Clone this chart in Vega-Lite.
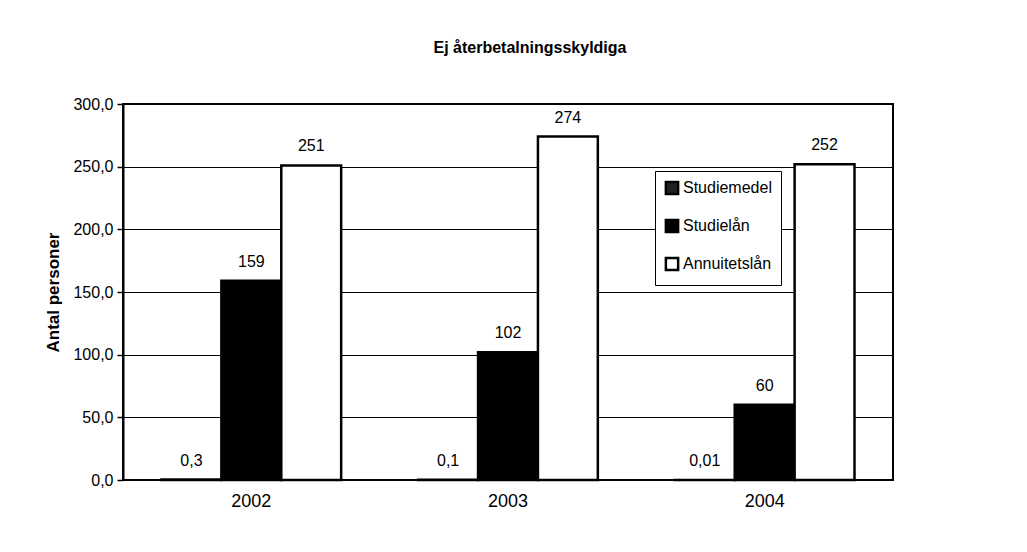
{
  "$schema": "https://vega.github.io/schema/vega-lite/v6.json",
  "autosize": "none",
  "width": 770,
  "height": 376,
  "padding": {"left": 123, "top": 104, "right": 134, "bottom": 72},
  "background": "white",
  "title": {
    "text": "Ej återbetalningsskyldiga",
    "font": "Liberation Sans",
    "fontSize": 16,
    "fontWeight": "bold",
    "color": "black",
    "anchor": "middle",
    "frame": "group",
    "offset": 40,
    "dx": 22
  },
  "data": {
    "values": [
      {"year": "2002", "typ": "Studiemedel", "value": 0.3, "label": "0,3"},
      {"year": "2002", "typ": "Studielån", "value": 159, "label": "159"},
      {"year": "2002", "typ": "Annuitetslån", "value": 251, "label": "251"},
      {"year": "2003", "typ": "Studiemedel", "value": 0.1, "label": "0,1"},
      {"year": "2003", "typ": "Studielån", "value": 102, "label": "102"},
      {"year": "2003", "typ": "Annuitetslån", "value": 274, "label": "274"},
      {"year": "2004", "typ": "Studiemedel", "value": 0.01, "label": "0,01"},
      {"year": "2004", "typ": "Studielån", "value": 60, "label": "60"},
      {"year": "2004", "typ": "Annuitetslån", "value": 252, "label": "252"}
    ]
  },
  "encoding": {
    "x": {
      "field": "year",
      "type": "nominal",
      "scale": {"paddingInner": 0.3, "paddingOuter": 0.15},
      "axis": {
        "title": null,
        "labelAngle": 0,
        "labelFont": "Liberation Sans",
        "labelFontSize": 18,
        "labelColor": "black",
        "labelPadding": 12,
        "ticks": false,
        "domain": false
      }
    },
    "xOffset": {
      "field": "typ",
      "type": "nominal",
      "sort": ["Studiemedel", "Studielån", "Annuitetslån"],
      "scale": {"paddingInner": 0, "paddingOuter": 0}
    },
    "y": {
      "field": "value",
      "type": "quantitative",
      "scale": {"domain": [0, 300], "nice": false},
      "axis": {
        "title": "Antal personer",
        "titleFont": "Liberation Sans",
        "titleFontSize": 17,
        "titleFontWeight": "bold",
        "titleColor": "black",
        "titlePadding": 10,
        "values": [0, 50, 100, 150, 200, 250, 300],
        "labelExpr": "replace(format(datum.value, '.1f'), '.', ',')",
        "labelFont": "Liberation Sans",
        "labelFontSize": 16,
        "labelColor": "black",
        "labelPadding": 4,
        "tickColor": "black",
        "tickSize": 6,
        "tickWidth": 1.5,
        "domainColor": "black",
        "domainWidth": 2,
        "grid": true,
        "gridColor": "black",
        "gridWidth": 1.2,
        "gridOpacity": 1
      }
    }
  },
  "layer": [
    {
      "mark": {"type": "bar", "stroke": "black", "strokeWidth": 2.5},
      "encoding": {
        "fill": {
          "field": "typ",
          "type": "nominal",
          "sort": ["Studiemedel", "Studielån", "Annuitetslån"],
          "scale": {
            "domain": ["Studiemedel", "Studielån", "Annuitetslån"],
            "range": ["#222222", "#000000", "#ffffff"]
          },
          "legend": {
            "title": null,
            "orient": "none",
            "legendX": 532,
            "legendY": 67,
            "symbolType": "square",
            "symbolSize": 150,
            "symbolStrokeColor": "black",
            "symbolStrokeWidth": 2.5,
            "labelFont": "Liberation Sans",
            "labelFontSize": 16,
            "labelColor": "black",
            "labelOffset": 3,
            "rowPadding": 14,
            "strokeColor": "black",
            "fillColor": "white",
            "padding": 9
          }
        }
      }
    },
    {
      "mark": {
        "type": "text",
        "baseline": "bottom",
        "dy": -11,
        "font": "Liberation Sans",
        "fontSize": 16,
        "color": "black"
      },
      "encoding": {
        "text": {"field": "label"}
      }
    }
  ],
  "config": {
    "view": {"stroke": "black", "strokeWidth": 2}
  }
}
